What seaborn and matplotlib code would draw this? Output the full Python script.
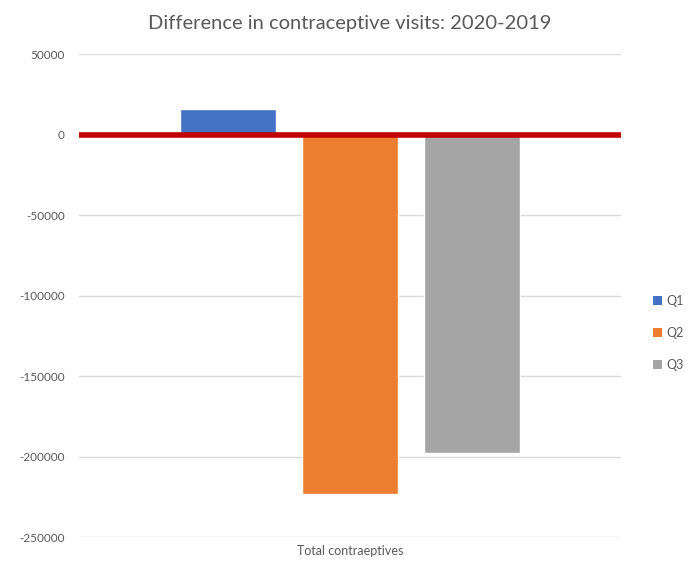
import matplotlib
matplotlib.use("Agg")
import matplotlib.pyplot as plt
import seaborn as sns
import pandas as pd
from matplotlib.patches import Patch

categories = ["Total contraeptives"]
quarters = ["Q1", "Q2", "Q3"]
values = [16000, -223000, -198000]
colors = ["#4472C4", "#ED7D31", "#A5A5A5"]
yticks = [50000, 0, -50000, -100000, -150000, -200000, -250000]

df = pd.DataFrame({"cat": categories * len(quarters), "quarter": quarters, "value": values})

sns.set_theme(style="white")
plt.rcParams['font.family'] = ['Lato', 'DejaVu Sans']

fig = plt.figure(figsize=(6.96, 5.69), dpi=100)
ax = fig.add_axes([0.113, 0.056, 0.779, 0.849])

sns.barplot(data=df, x="cat", y="value", hue="quarter", palette=colors,
            width=0.675, gap=0.21, ax=ax, legend=False, zorder=2, saturation=1)

ax.set_xlim(-0.5, 0.5)
ax.set_ylim(-250000, 50000)
ax.set_yticks(yticks)
ax.set_yticklabels([str(v) for v in yticks])
ax.yaxis.grid(True, color="#D9D9D9", linewidth=1)
ax.set_axisbelow(True)
ax.axhline(0, color="#C00000", linewidth=4, zorder=3)
for s in ax.spines.values():
    s.set_visible(False)
ax.tick_params(axis="y", length=0, labelsize=8.5, colors="#595959", pad=10)
ax.tick_params(axis="x", length=0, labelsize=9, colors="#595959", pad=6)
ax.set_xlabel("")
ax.set_ylabel("")
ax.set_title("Difference in contraceptive visits: 2020-2019", color="#595959",
             fontsize=14.5, pad=18)

handles = [Patch(facecolor=c, edgecolor="none") for c in colors]
leg = fig.legend(handles, quarters, loc="center left", bbox_to_anchor=(0.922, 0.415),
                 frameon=False, fontsize=9, handlelength=0.7, handleheight=0.7,
                 labelspacing=1.6, handletextpad=0.4, labelcolor="#595959")

fig.savefig("out.png", dpi=100)
